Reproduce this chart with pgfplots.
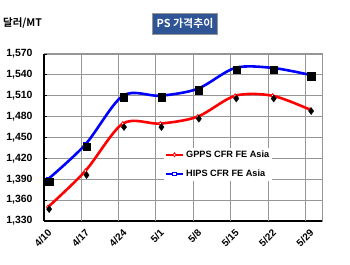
\documentclass[border=0pt]{standalone}
\usepackage{pgfplots}
\pgfplotsset{compat=1.18}
\usepackage{fontspec}
\setmainfont{Liberation Sans}
\newfontfamily\kr{Noto Sans CJK KR}[BoldFont={Noto Sans CJK KR Bold}]
\definecolor{titlebg}{RGB}{47,84,150}
\definecolor{gridc}{RGB}{150,150,150}
\begin{document}
\begin{tikzpicture}[x=1bp,y=1bp]
\useasboundingbox (0,0) rectangle (350,265);
\node[anchor=west,font=\kr\bfseries\fontsize{10.5}{12}\selectfont,inner sep=0pt] at (3,242) {달러/MT};
\node[fill=titlebg,text=white,draw=gridc,font=\kr\bfseries\fontsize{11}{12}\selectfont,minimum width=65bp,minimum height=21bp,inner sep=1pt] at (185,241.5) {PS 가격추이};
\begin{axis}[
  at={(44bp,44bp)}, anchor=south west,
  scale only axis, width=278bp, height=167bp,
  xmin=-0.107, xmax=7.32, ymin=1330, ymax=1570,
  ytick={1330,1360,...,1570},
  /pgf/number format/.cd, 1000 sep={,}, assume math mode=true, /pgfplots/.cd,
  xtick={0,...,7},
  xticklabels={4/10,4/17,4/24,5/1,5/8,5/15,5/22,5/29},
  major x tick style={draw=none},
  extra x ticks={0.88,1.88,2.88,3.88,4.88,5.88,6.88},
  extra x tick labels={},
  extra x tick style={grid=major, major tick length=4bp, tick style={black, line width=0.8pt}, major grid style={gridc, line width=0.8pt}},
  ymajorgrids, major grid style={gridc, line width=0.8pt},
  major y tick style={black, line width=0.8pt}, major tick length=3bp,
  axis lines=left, axis line style={black, line width=1.3pt, -},
  axis background/.style={draw=gridc, line width=1pt},
  tick align=inside,
  yticklabel style={font=\bfseries\fontsize{10.5}{12}\selectfont, xshift=-8bp},
  xticklabel style={font=\bfseries\fontsize{10}{12}\selectfont, rotate=45, anchor=east, inner sep=0pt, xshift=-5.7bp, yshift=-8.5bp},
  legend style={at={(0.43,0.44)}, anchor=north west, draw=none, fill=white,
    font=\bfseries\fontsize{9.2}{11}\selectfont, row sep=7bp, inner sep=1pt},
  legend cell align=left,
  legend image post style={line width=2.5pt, mark size=2pt},
]
\addplot[red, line width=2.6pt, smooth, mark=diamond*, mark size=2pt, mark options={fill=white, draw=red, line width=0.8pt}]
  coordinates {(0,1350) (1,1402) (2,1470) (3,1470) (4,1480) (5,1510) (6,1510) (7,1490)};
\addlegendentry{GPPS CFR FE Asia}
\addplot[blue, line width=2.6pt, smooth, mark=square*, mark size=2pt, mark options={fill=white, draw=blue, line width=0.8pt}]
  coordinates {(0,1390) (1,1440) (2,1510) (3,1510) (4,1520) (5,1550) (6,1550) (7,1540)};
\addlegendentry{HIPS CFR FE Asia}
\addplot[only marks, mark=diamond*, mark size=3.5pt, black, forget plot]
  coordinates {(0.03,1347) (1.03,1396) (2.03,1465) (3.03,1465) (4.03,1477) (5.03,1506) (6.03,1506) (7.03,1488)};
\addplot[only marks, mark=square*, mark size=3.6pt, black, forget plot]
  coordinates {(0.03,1387) (1.03,1437) (2.03,1508) (3.03,1508) (4.03,1518) (5.03,1547) (6.03,1547) (7.03,1538)};
\end{axis}
\end{tikzpicture}
\end{document}
